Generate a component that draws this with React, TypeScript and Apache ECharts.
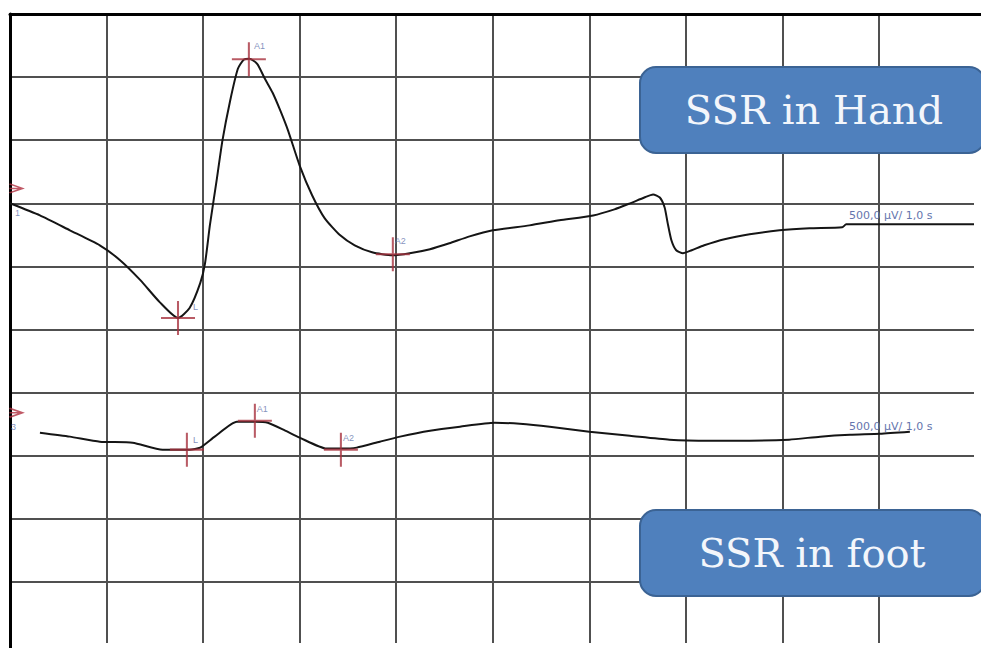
import React, { useEffect, useRef } from "react";
import * as echarts from "echarts";

// Time (s, 1 s per division) and potential (µV, 500 µV per division, negative up)
const handTime = [0, 0.31, 0.62, 0.93, 1.14, 1.35, 1.55, 1.74, 1.86, 1.97, 2.02, 2.07, 2.14, 2.2, 2.28, 2.36, 2.42, 2.48, 2.56, 2.64, 2.72, 2.8, 2.88, 3.0, 3.13, 3.26, 3.42, 3.57, 3.75, 3.96, 4.14, 4.35, 4.55, 4.76, 5.0, 5.38, 5.69, 6.04, 6.26, 6.42, 6.57, 6.66, 6.73, 6.78, 6.81, 6.85, 6.9, 6.97, 7.06, 7.19, 7.4, 7.66, 7.97, 8.28, 8.62, 8.66, 9.21, 9.99];
const handUV = [-1000, -904, -786, -667, -549, -391, -217, -91, -170, -367, -525, -825, -1181, -1497, -1813, -2066, -2137, -2145, -2105, -1987, -1876, -1734, -1576, -1299, -1062, -881, -746, -667, -612, -588, -604, -636, -683, -738, -786, -825, -865, -904, -952, -999, -1046, -1070, -1046, -967, -849, -707, -628, -604, -628, -667, -715, -754, -786, -802, -810, -833, -833, -833];

const footTime = [0.31, 0.62, 0.93, 1.27, 1.58, 1.86, 1.97, 2.12, 2.35, 2.54, 2.67, 2.85, 3.0, 3.28, 3.44, 3.59, 3.83, 4.04, 4.35, 4.66, 5.02, 5.28, 5.59, 6.0, 6.42, 6.83, 7.25, 7.66, 8.07, 8.39, 8.7, 9.01, 9.32];
const footUV = [818, 849, 889, 897, 952, 952, 936, 849, 731, 731, 739, 802, 857, 944, 944, 936, 889, 849, 802, 770, 739, 747, 770, 810, 842, 873, 881, 881, 873, 849, 834, 826, 810];

// Latency / amplitude markers
const handMarkerNames = ["L", "A1", "A2"];
const handMarkerTime = [1.74, 2.474, 3.965];
const handMarkerUV = [-91, -2141, -596];
const footMarkerNames = ["L", "A1", "A2"];
const footMarkerTime = [1.832, 2.536, 3.427];
const footMarkerUV = [952, 723, 952];

// Channel start markers
const channelNames = ["1", "3"];
const channelTime = [0.062, 0.062];
const channelUV = [-1118, 660];

const sensitivityText = "500,0 µV/ 1,0 s";
const boxTitles = ["SSR in Hand", "SSR in foot"];

const handLabelOffsets = [[15, -11], [5, -13], [2, -13]];
const footLabelOffsets = [[6, -10], [2, -12], [2, -12]];
const channelLabelOffsets = [[4, 25], [0, 15]];

const CROSS = "path://M47,0H53V100H47Z M0,47H100V53H0Z";

export default function App() {
  const ref = useRef<HTMLDivElement>(null);
  useEffect(() => {
    if (!ref.current) return;
    const chart = echarts.init(ref.current, null, { renderer: "svg" });
    const labelColor = "#6575ad";
    const markerItems = (names: string[], t: number[], v: number[], offs: number[][]) =>
      names.map((n, i) => ({
        name: n,
        value: [t[i], v[i]],
        label: { position: [17 + offs[i][0], 17 + offs[i][1]] },
      }));
    const option: any = {
      animation: false,
      backgroundColor: "#ffffff",
      grid: { left: 10, top: 14, width: 975.2, height: 643.6, outerBoundsMode: "none", containLabel: false },
      xAxis: {
        type: "value",
        position: "top",
        min: 0,
        max: 10.1,
        interval: 1,
        axisLine: { show: true, onZero: false, lineStyle: { color: "#000", width: 3 } },
        axisTick: { show: false },
        axisLabel: { show: false },
        splitLine: { show: true, lineStyle: { color: "#505050", width: 2 } },
      },
      yAxis: {
        type: "value",
        inverse: true,
        min: -2500,
        max: 2600,
        interval: 500,
        axisLine: { show: true, onZero: false, lineStyle: { color: "#000", width: 3 } },
        axisTick: { show: false },
        axisLabel: { show: false },
        splitLine: { show: true, lineStyle: { color: "#505050", width: 2 } },
      },
      series: [
        {
          name: "SSR in Hand",
          type: "line",
          data: handTime.map((t, i) => [t, handUV[i]]),
          showSymbol: false,
          smooth: 0.2,
          lineStyle: { color: "#151515", width: 2 },
          z: 3,
        },
        {
          name: "SSR in foot",
          type: "line",
          data: footTime.map((t, i) => [t, footUV[i]]),
          showSymbol: false,
          smooth: 0.2,
          lineStyle: { color: "#151515", width: 2 },
          z: 3,
        },
        {
          name: "hand markers",
          type: "scatter",
          symbol: CROSS,
          symbolSize: [34, 34],
          itemStyle: { color: "#a8323e" },
          label: { show: true, formatter: "{b}", fontSize: 9, color: labelColor, align: "left", verticalAlign: "middle", fontFamily: "Liberation Sans" },
          data: markerItems(handMarkerNames, handMarkerTime, handMarkerUV, handLabelOffsets),
          z: 4,
        },
        {
          name: "foot markers",
          type: "scatter",
          symbol: CROSS,
          symbolSize: [34, 34],
          itemStyle: { color: "#a8323e" },
          label: { show: true, formatter: "{b}", fontSize: 9, color: labelColor, align: "left", verticalAlign: "middle", fontFamily: "Liberation Sans" },
          data: markerItems(footMarkerNames, footMarkerTime, footMarkerUV, footLabelOffsets),
          z: 4,
        },
        {
          name: "channels",
          type: "scatter",
          symbol: "path://M0,0 L10,4 L0,8 M0,4 L10,4",
          symbolSize: [13, 9],
          itemStyle: { color: "rgba(0,0,0,0)", borderColor: "#b03040", borderWidth: 1.8 },
          label: { show: true, formatter: "{b}", fontSize: 9, color: labelColor, align: "left", verticalAlign: "middle", fontFamily: "Liberation Sans" },
          data: channelNames.map((n, i) => ({
            name: n,
            value: [channelTime[i], channelUV[i]],
            label: { position: [2.5 + channelLabelOffsets[i][0], 4.5 + channelLabelOffsets[i][1]] },
          })),
          z: 4,
        },
      ],
      graphic: [
        {
          type: "rect",
          left: 974,
          top: 16,
          z: 5,
          shape: { width: 12, height: 640 },
          style: { fill: "#ffffff" },
        },
        {
          type: "rect",
          left: 12,
          top: 643,
          z: 5,
          shape: { width: 975, height: 10 },
          style: { fill: "#ffffff" },
        },
        {
          type: "text",
          left: 849,
          top: 210,
          z: 50,
          style: { text: sensitivityText, fontSize: 11, fill: labelColor, fontFamily: "DejaVu Sans" },
        },
        {
          type: "text",
          left: 849,
          top: 421,
          z: 50,
          style: { text: sensitivityText, fontSize: 11, fill: labelColor, fontFamily: "DejaVu Sans" },
        },
        {
          type: "group",
          left: 639,
          top: 66,
          z: 100,
          children: [
            {
              type: "rect",
              shape: { x: 0, y: 0, width: 345, height: 86, r: 16 },
              style: { fill: "#4f80bd", stroke: "#3b6394", lineWidth: 2 },
              z: 100,
            },
            {
              type: "text",
              x: 174,
              y: 43,
              z: 101,
              style: { text: boxTitles[0], fontSize: 40, fill: "#f3f6fb", fontFamily: "DejaVu Serif", align: "center", verticalAlign: "middle" },
            },
          ],
        },
        {
          type: "group",
          left: 639,
          top: 509,
          z: 100,
          children: [
            {
              type: "rect",
              shape: { x: 0, y: 0, width: 345, height: 86, r: 16 },
              style: { fill: "#4f80bd", stroke: "#3b6394", lineWidth: 2 },
              z: 100,
            },
            {
              type: "text",
              x: 172,
              y: 43,
              z: 101,
              style: { text: boxTitles[1], fontSize: 40, fill: "#f3f6fb", fontFamily: "DejaVu Serif", align: "center", verticalAlign: "middle" },
            },
          ],
        },
      ],
    };
    chart.setOption(option);
    return () => chart.dispose();
  }, []);
  return (
    <div
      ref={ref}
      style={{ position: "absolute", left: 0, top: 0, width: 981, height: 648, background: "#fff" }}
    />
  );
}
